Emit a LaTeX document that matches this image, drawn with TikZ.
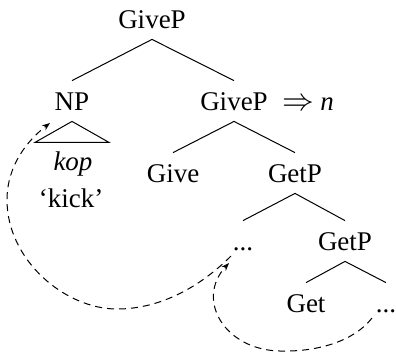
\documentclass[tikz,border=0pt]{standalone}
\usepackage{fontspec}
\setmainfont{Liberation Serif}
\usetikzlibrary{arrows.meta}
\begin{document}
\begin{tikzpicture}[x=0.5pt,y=-0.5pt,
  lbl/.style={font=\fontsize{13.5pt}{16pt}\selectfont, anchor=base, inner xsep=0pt, inner ysep=5.5pt, text height=9pt, text depth=0pt},
  branch/.style={line width=0.5pt},
  move/.style={line width=0.5pt, dash pattern=on 3.5pt off 2.5pt, -{Stealth[length=4pt,width=3pt]}}]
\useasboundingbox (0,0) rectangle (396,361);
% nodes
\node[lbl] (top) at (152,28) {GiveP};
\node[lbl] (np) at (72,110) {NP};
\node[lbl] (givep) at (234,110) {GiveP};
\node[lbl, anchor=base west] (imp) at (282,110) {\scalebox{1.1}{$\Rightarrow$}};
\node[lbl, anchor=base west] (nn) at (320,110) {\textit{n}};
\node[lbl] (kop) at (73,170) {\textit{kop}};
\node[lbl] (kick) at (71,207) {‘kick’};
\node[lbl] (give) at (173,182) {Give};
\node[lbl] (getp) at (295,182) {GetP};
\node[lbl] (dotsa) at (243,250) {...};
\node[lbl] (getpb) at (345,250) {GetP};
\node[lbl] (get) at (306,312) {Get};
\node[lbl] (dotsb) at (386,312) {...};
% branches
\draw[branch] (top.south) -- (np.north);
\draw[branch] (top.south) -- (givep.north);
\draw[branch] (givep.south) -- (give.north);
\draw[branch] (givep.south) -- (getp.north);
\draw[branch] (getp.south) -- (dotsa.north);
\draw[branch] (getp.south) -- (getpb.north);
\draw[branch] (getpb.south) -- (get.north);
\draw[branch] (getpb.south) -- (dotsb.north);
% triangle
\draw[branch] (np.south) -- ++(-37,21) coordinate (triL) -- ++(74,0) -- cycle;
% movement arrows
\coordinate (m1s) at (231,256);
\coordinate (m1e) at (50,123);
\coordinate (m2s) at (372,318);
\coordinate (m2e) at (229,263);
\draw[move] (m1s) .. controls (200,287) and (160,309) .. (117,309)
  .. controls (65,309) and (7,260) .. (7,200)
  .. controls (7,165) and (28,140) .. (m1e);
\draw[move] (m2s) .. controls (355,340) and (320,352) .. (280,351)
  .. controls (225,350) and (195,300) .. (m2e);
\end{tikzpicture}
\end{document}
